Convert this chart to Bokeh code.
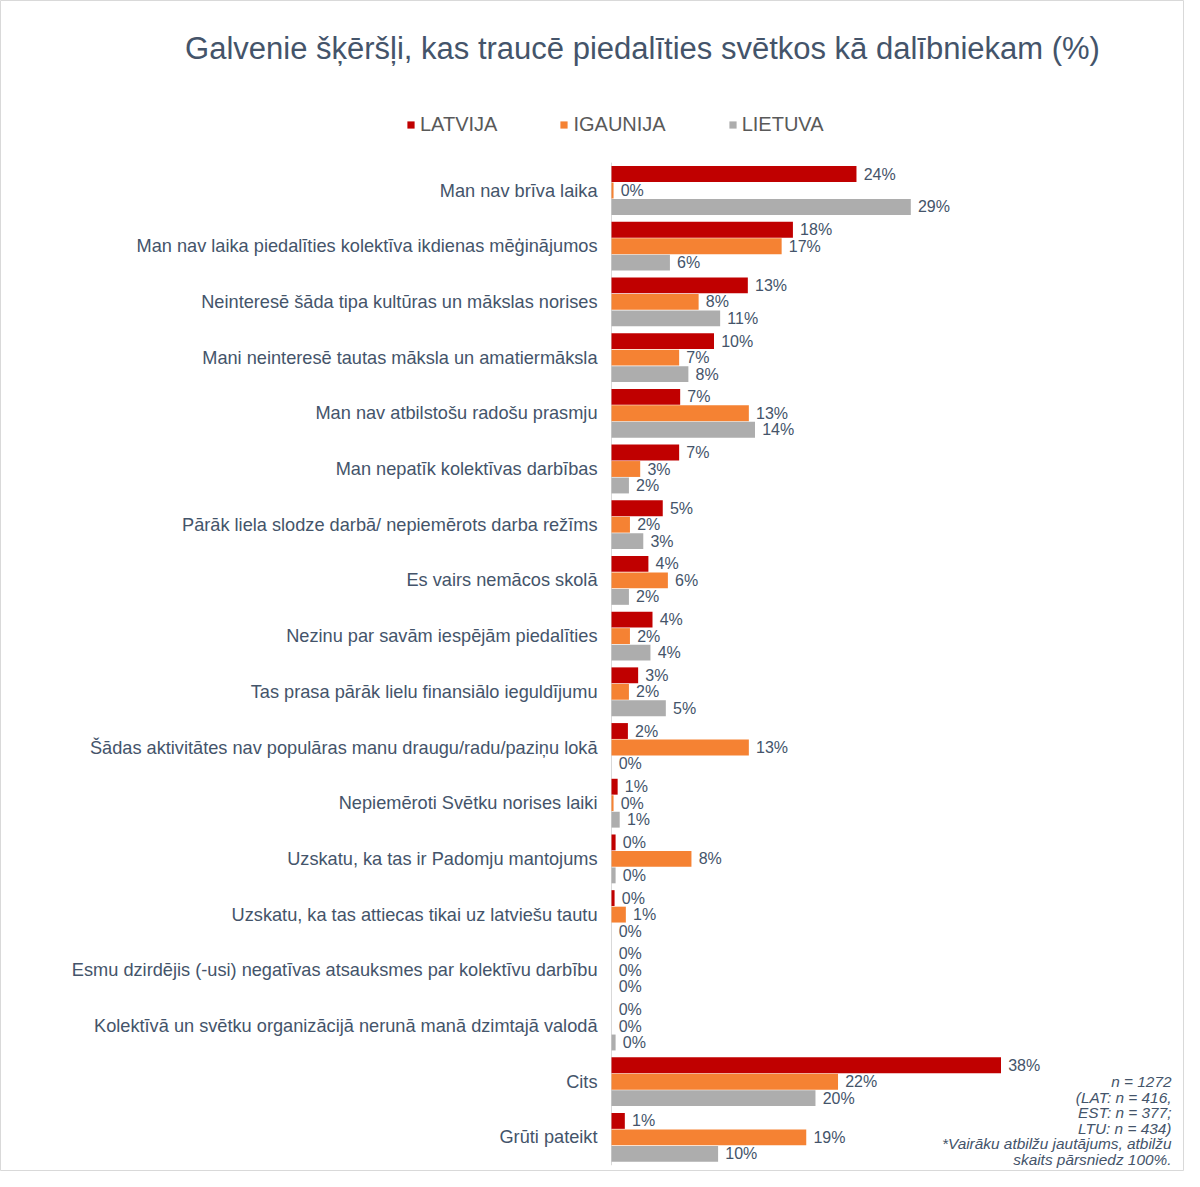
from bokeh.plotting import figure
from bokeh.models import ColumnDataSource, Range1d, Legend, LegendItem, Label
from bokeh.embed import file_html
from bokeh.resources import INLINE
from bokeh.core.properties import value

title = "Galvenie šķēršļi, kas traucē piedalīties svētkos kā dalībniekam (%)"
categories = [
    "Man nav brīva laika",
    "Man nav laika piedalīties kolektīva ikdienas mēģinājumos",
    "Neinteresē šāda tipa kultūras un mākslas norises",
    "Mani neinteresē tautas māksla un amatiermāksla",
    "Man nav atbilstošu radošu prasmju",
    "Man nepatīk kolektīvas darbības",
    "Pārāk liela slodze darbā/ nepiemērots darba režīms",
    "Es vairs nemācos skolā",
    "Nezinu par savām iespējām piedalīties",
    "Tas prasa pārāk lielu finansiālo ieguldījumu",
    "Šādas aktivitātes nav populāras manu draugu/radu/paziņu lokā",
    "Nepiemēroti Svētku norises laiki",
    "Uzskatu, ka tas ir Padomju mantojums",
    "Uzskatu, ka tas attiecas tikai uz latviešu tautu",
    "Esmu dzirdējis (-usi) negatīvas atsauksmes par kolektīvu darbību",
    "Kolektīvā un svētku organizācijā nerunā manā dzimtajā valodā",
    "Cits",
    "Grūti pateikt",
]
series_names = ["LATVIJA", "IGAUNIJA", "LIETUVA"]
latvija = [23.9, 17.7, 13.3, 10.0, 6.7, 6.6, 5.0, 3.6, 4.0, 2.6, 1.6, 0.6, 0.4, 0.3, 0.0, 0.0, 38.0, 1.3]
igaunija = [0.2, 16.6, 8.5, 6.6, 13.4, 2.8, 1.8, 5.5, 1.8, 1.7, 13.4, 0.2, 7.8, 1.4, 0.0, 0.0, 22.1, 19.0]
lietuva = [29.2, 5.7, 10.6, 7.5, 14.0, 1.7, 3.1, 1.7, 3.8, 5.3, 0.0, 0.8, 0.4, 0.0, 0.0, 0.4, 19.9, 10.4]
footnote = ["n = 1272", "(LAT: n = 416,", "EST: n = 377;", "LTU: n = 434)",
            "*Vairāku atbilžu jautājums, atbilžu", "skaits pārsniedz 100%."]

colors = ["#C00000", "#F58233", "#ADADAD"]
TEXT = "#44546A"
FONT = "Liberation Sans"

W, H = 1184, 1171
X0, PX = 611.0, 10.25     # canvas px of 0 %, px per 1 %
Y0, PY = 190.0, 55.7      # canvas px of first category centre, px per category

def dx(px):
    return (px - X0) / PX

def dy(py):
    return (py - Y0) / PY

p = figure(width=W, height=H, output_backend="svg", toolbar_location=None,
           x_range=Range1d(dx(0), dx(W)), y_range=Range1d(dy(H), dy(0)),
           x_axis_location=None, y_axis_location=None, title=None,
           min_border=0, min_border_left=0, min_border_right=0,
           min_border_top=0, min_border_bottom=0)
p.grid.visible = False
p.outline_line_color = "#D9D9D9"
p.background_fill_color = "white"
p.border_fill_color = "white"

n = len(categories)
# axis line
p.segment(x0=[0], y0=[-0.5], x1=[0], y1=[n - 0.5], line_color="#D9D9D9", line_width=1)

offsets = [-0.296, 0.0, 0.296]
items = []
for name, vals, col, off in zip(series_names, [latvija, igaunija, lietuva], colors, offsets):
    src = ColumnDataSource(dict(
        y=[i + off for i in range(n)],
        v=vals,
        lx=[v + 0.7 for v in vals],
        lab=[f"{round(v)}%" for v in vals],
    ))
    r = p.hbar(y="y", right="v", left=0, height=0.285, source=src,
               fill_color=col, line_color=None)
    p.text(x="lx", y="y", text="lab", source=src, text_font=value(FONT),
           text_font_size="16px", text_color=TEXT, text_align="left",
           text_baseline="middle")
    items.append(LegendItem(label=name, renderers=[r]))

# category labels
csrc = ColumnDataSource(dict(y=list(range(n)), t=categories, x=[dx(X0 - 14)] * n))
p.text(x="x", y="y", text="t", source=csrc, text_font=value(FONT),
       text_font_size="18.2px", text_color=TEXT, text_align="right",
       text_baseline="middle")

# title
p.add_layout(Label(x=dx(642), y=dy(48), text=title, text_font=FONT,
                   text_font_size="31px", text_color=TEXT, text_align="center",
                   text_baseline="middle"))

# footnote
for k, line in enumerate(footnote):
    p.add_layout(Label(x=dx(1171), y=dy(1081 + k * 15.6), text=line, text_font=FONT,
                       text_font_size="15.4px", text_font_style="italic",
                       text_color=TEXT, text_align="right", text_baseline="middle"))

legend = Legend(items=items, orientation="horizontal", location=(406, H - 136),
                label_text_font=FONT, label_text_font_size="20px",
                label_text_color="#595959", glyph_width=9, glyph_height=9,
                label_standoff=5, spacing=62, padding=0, margin=0,
                border_line_color=None, background_fill_alpha=0,
                label_height=20)
p.add_layout(legend)

open("out.html", "w").write(file_html(p, INLINE))
